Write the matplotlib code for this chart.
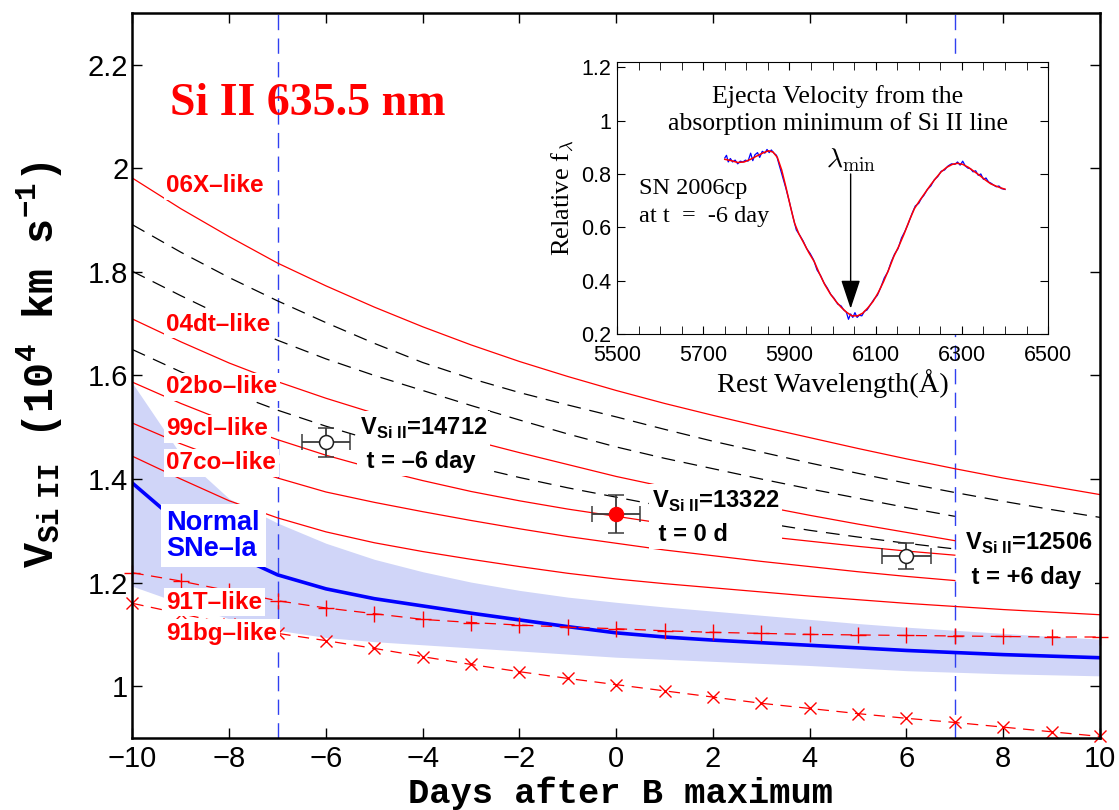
import matplotlib
matplotlib.use('Agg')
import matplotlib.pyplot as plt
import numpy as np
from matplotlib.ticker import FuncFormatter, MultipleLocator

plt.rcParams['font.family'] = 'Liberation Sans'
plt.rcParams['mathtext.fontset'] = 'custom'
plt.rcParams['mathtext.rm'] = 'Liberation Sans:bold'
plt.rcParams['mathtext.bf'] = 'Liberation Sans:bold'
plt.rcParams['mathtext.tt'] = 'Liberation Mono:bold'

# days after B maximum
days = np.arange(-10, 11)
days_to7 = np.arange(-10, 8)

# Si II velocity tracks (10^4 km/s)
v_06x = [1.981, 1.922, 1.868, 1.817, 1.773, 1.732, 1.694, 1.659, 1.627, 1.598, 1.571,
         1.546, 1.523, 1.501, 1.480, 1.459, 1.439, 1.420, 1.402, 1.386, 1.370]
v_dash1 = [1.891, 1.838, 1.789, 1.744, 1.702, 1.662, 1.625, 1.594, 1.567, 1.543, 1.520,
           1.496, 1.473, 1.452, 1.431, 1.411, 1.392, 1.374, 1.357, 1.341, 1.326]
v_dash2 = [1.801, 1.754, 1.709, 1.668, 1.632, 1.600, 1.571, 1.542, 1.514, 1.487, 1.462,
           1.440, 1.420, 1.400, 1.381, 1.363, 1.345, 1.328]
v_04dt = [1.709, 1.665, 1.624, 1.588, 1.556, 1.527, 1.500, 1.475, 1.451, 1.428, 1.405,
          1.385, 1.366, 1.348, 1.330, 1.313, 1.297, 1.281]
v_dash3 = [1.650, 1.607, 1.568, 1.533, 1.502, 1.474, 1.448, 1.425, 1.403, 1.383, 1.365,
           1.347, 1.331, 1.316, 1.301, 1.288, 1.276, 1.265]
v_02bo = [1.587, 1.546, 1.509, 1.476, 1.446, 1.420, 1.397, 1.376, 1.358, 1.342, 1.328,
          1.314, 1.301, 1.290, 1.280, 1.270, 1.261, 1.253]
v_99cl = [1.508, 1.468, 1.433, 1.402, 1.375, 1.355, 1.337, 1.320, 1.304, 1.289, 1.276,
          1.263, 1.252, 1.241, 1.231, 1.221, 1.212, 1.204]
v_07co = [1.444, 1.400, 1.358, 1.325, 1.298, 1.277, 1.260, 1.245, 1.231, 1.218, 1.207,
          1.198, 1.190, 1.182, 1.174, 1.167, 1.160, 1.154, 1.148, 1.143, 1.138]
v_normal = [1.392, 1.312, 1.258, 1.215, 1.188, 1.169, 1.155, 1.141, 1.128, 1.115, 1.103,
            1.095, 1.089, 1.084, 1.079, 1.074, 1.069, 1.065, 1.061, 1.058, 1.055]
v_normal_hi = [1.585, 1.447, 1.362, 1.315, 1.276, 1.245, 1.221, 1.201, 1.185, 1.172, 1.162,
               1.153, 1.145, 1.137, 1.129, 1.121, 1.114, 1.108, 1.102, 1.096, 1.091]
v_normal_lo = [1.193, 1.160, 1.130, 1.108, 1.094, 1.086, 1.080, 1.074, 1.068, 1.062, 1.056,
               1.052, 1.048, 1.044, 1.040, 1.035, 1.030, 1.027, 1.024, 1.022, 1.020]
v_91t = [1.219, 1.203, 1.184, 1.165, 1.151, 1.140, 1.129, 1.123, 1.118, 1.114, 1.111,
         1.107, 1.104, 1.102, 1.100, 1.099, 1.098, 1.097, 1.096, 1.095, 1.095]
v_91bg = [1.160, 1.140, 1.120, 1.102, 1.088, 1.073, 1.057, 1.042, 1.028, 1.015, 1.003,
          0.991, 0.979, 0.967, 0.957, 0.947, 0.938, 0.930, 0.921, 0.912, 0.903]

# SN 2006cp measurements
obs_t = [-6, 0, 6]
obs_v = [1.4712, 1.3322, 1.2506]
obs_terr = [0.5, 0.5, 0.5]
obs_verr = [0.028, 0.037, 0.025]
obs_text = ['14712', '13322', '12506']
obs_when = ['t = \u20136 day', 't = 0 d', 't = +6 day']

# Si II 6355 line profile of SN 2006cp at t = -6 day
wave_obs = [5750, 5754, 5758, 5763, 5768, 5774, 5780, 5786, 5792, 5798, 5804, 5810, 5815,
            5820, 5826, 5831, 5837, 5843, 5848, 5853, 5858, 5864, 5870, 5876, 5884, 5892,
            5900, 5908, 5916, 5924, 5932, 5940, 5948, 5956, 5964, 5972, 5980, 5988, 5996,
            6004, 6012, 6020, 6026, 6032, 6037, 6042, 6047, 6052, 6057, 6062, 6068, 6074,
            6080, 6088, 6096, 6104, 6112, 6120, 6128, 6136, 6144, 6152, 6160, 6168, 6176,
            6184, 6192, 6200, 6206, 6212, 6220, 6228, 6236, 6244, 6252, 6260, 6268, 6276,
            6284, 6290, 6296, 6302, 6308, 6314, 6320, 6326, 6332, 6338, 6344, 6350, 6356,
            6362, 6368, 6374, 6380, 6386, 6392, 6400]
flux_obs = [0.860, 0.870, 0.845, 0.858, 0.845, 0.852, 0.838, 0.848, 0.845, 0.852, 0.848,
            0.878, 0.850, 0.872, 0.880, 0.862, 0.885, 0.878, 0.892, 0.880, 0.890, 0.878,
            0.870, 0.835, 0.790, 0.745, 0.695, 0.640, 0.590, 0.570, 0.548, 0.520, 0.502,
            0.478, 0.440, 0.420, 0.392, 0.372, 0.348, 0.333, 0.312, 0.305, 0.290, 0.282,
            0.255, 0.275, 0.262, 0.280, 0.262, 0.270, 0.268, 0.285, 0.290, 0.310, 0.330,
            0.345, 0.375, 0.410, 0.432, 0.470, 0.500, 0.520, 0.560, 0.585, 0.615, 0.650,
            0.680, 0.690, 0.708, 0.720, 0.742, 0.755, 0.778, 0.790, 0.810, 0.815, 0.830,
            0.838, 0.836, 0.845, 0.833, 0.848, 0.830, 0.822, 0.820, 0.808, 0.812, 0.795,
            0.800, 0.780, 0.785, 0.770, 0.765, 0.758, 0.752, 0.755, 0.745, 0.742]
wave_fit = [5750, 5765, 5780, 5795, 5810, 5825, 5840, 5852, 5862, 5872, 5882, 5892, 5902,
            5912, 5922, 5932, 5945, 5958, 5970, 5982, 5995, 6008, 6020, 6032, 6045, 6058,
            6070, 6082, 6094, 6106, 6118, 6130, 6142, 6154, 6166, 6178, 6190, 6202, 6215,
            6228, 6240, 6252, 6265, 6278, 6290, 6302, 6315, 6328, 6341, 6354, 6367, 6380,
            6390, 6400]
flux_fit = [0.855, 0.850, 0.843, 0.845, 0.855, 0.868, 0.880, 0.887, 0.882, 0.862, 0.815,
            0.750, 0.680, 0.615, 0.575, 0.545, 0.505, 0.470, 0.425, 0.385, 0.350, 0.322,
            0.300, 0.282, 0.268, 0.268, 0.278, 0.298, 0.322, 0.355, 0.395, 0.440, 0.490,
            0.530, 0.575, 0.625, 0.670, 0.700, 0.730, 0.760, 0.785, 0.808, 0.825, 0.836,
            0.840, 0.836, 0.825, 0.810, 0.795, 0.778, 0.763, 0.754, 0.748, 0.743]
lambda_min = 6042

RED = '#ff0000'
BLUE = '#0000ff'
BAND = '#d0d5f8'

fig = plt.figure(figsize=(11.19, 8.10), dpi=100)
ax = fig.add_axes([0.1184, 0.0889, 0.8646, 0.8951])

ax.fill_between(days, v_normal_lo, v_normal_hi, color=BAND, lw=0, zorder=1)
ax.axvline(-7, color='#3040f0', lw=1, dashes=(11, 6), zorder=1.5)
ax.axvline(7, color='#3040f0', lw=1, dashes=(11, 6), zorder=1.5)

for v in (v_06x, v_07co):
    ax.plot(days, v, color=RED, lw=0.9)
for v in (v_04dt, v_02bo, v_99cl):
    ax.plot(days_to7, v, color=RED, lw=0.9)
ax.plot(days, v_dash1, color='black', lw=0.9, dashes=(11, 7))
ax.plot(days_to7, v_dash2, color='black', lw=0.9, dashes=(11, 7))
ax.plot(days_to7, v_dash3, color='black', lw=0.9, dashes=(11, 7))
ax.plot(days, v_normal, color=BLUE, lw=2.6)
ax.plot(days, v_91t, color=RED, lw=0.9, dashes=(9, 6), marker='+', ms=11, mew=1,
        clip_on=False)
ax.plot(days, v_91bg, color=RED, lw=0.9, dashes=(9, 6), marker='x', ms=8, mew=1,
        clip_on=False)

# SN 2006cp points
for t, v, te, ve, face in zip(obs_t, obs_v, obs_terr, obs_verr, ['white', RED, 'white']):
    edge = RED if face == RED else '#202020'
    ax.errorbar(t, v, xerr=te, yerr=ve, fmt='o', ms=10, mfc=face, mec=edge, mew=1.1,
                ecolor='#3a3a3a', elinewidth=1.3, capsize=6, capthick=1.3, zorder=5)

box = dict(facecolor='white', edgecolor='none', pad=2)
label_x = -9.3
labels = [('06X\u2013like', 1.967), ('04dt\u2013like', 1.699), ('02bo\u2013like', 1.578),
          ('99cl\u2013like', 1.497), ('07co\u2013like', 1.431), ('91T\u2013like', 1.162),
          ('91bg\u2013like', 1.102)]
for name, y in labels:
    ax.text(label_x, y, name, color=RED, fontsize=17.5, fontweight='bold', ha='left',
            va='center', bbox=box, zorder=4)
ax.text(label_x, 1.291, 'Normal\nSNe\u2013Ia', color=BLUE, fontsize=19.5, fontweight='bold',
        ha='left', va='center', linespacing=1.0,
        bbox=dict(facecolor='white', edgecolor='none', pad=4), zorder=4)

ax.text(-9.22, 2.124, 'Si II 635.5 nm', color=RED, fontsize=33, fontweight='bold',
        family='Liberation Serif', ha='left', va='center')

ann_pos = [(-5.3, 1.467), (0.73, 1.326), (7.2, 1.244)]
for (x, y), num, when in zip(ann_pos, obs_text, obs_when):
    ax.text(x, y, r'V$_{\mathbf{Si\ II}}$=' + num + '\n ' + when, fontsize=17,
            fontweight='bold', ha='left', va='center', linespacing=1.55, bbox=box,
            zorder=4)

ax.set_xlim(-10, 10)
ax.set_ylim(0.9, 2.3)
ax.set_xticks(np.arange(-10, 11, 2))
ax.set_yticks(np.arange(1.0, 2.3, 0.2))
fmt = FuncFormatter(lambda v, p: ('%g' % round(v, 2)).replace('-', '\u2212'))
ax.xaxis.set_major_formatter(fmt)
ax.yaxis.set_major_formatter(fmt)
ax.tick_params(direction='in', length=7, width=1, labelsize=21, top=True, right=True)
ax.tick_params(axis='x', pad=5)
ax.tick_params(axis='y', pad=3)
for s in ax.spines.values():
    s.set_linewidth(1.8)

fig.text(40 / 1119, 0.549,
         r'V$_{\mathtt{Si\ II}}$ (10$^{\mathtt{4}}$ km s$^{\mathtt{-1}}$)',
         family='Liberation Mono', fontweight='bold', fontsize=30, rotation=90,
         ha='center', va='center')
fig.text(621 / 1119, 0.0, 'Days after B maximum', family='Liberation Mono',
         fontweight='bold', fontsize=25.5, ha='center', va='bottom')

# inset: line profile and absorption minimum
ins = fig.add_axes([0.5514, 0.5877, 0.3852, 0.3358])
ins.plot(wave_obs, flux_obs, color=BLUE, lw=0.9)
ins.plot(wave_fit, flux_fit, color=RED, lw=1.1)
ins.annotate('', xy=(lambda_min, 0.295), xytext=(lambda_min, 0.80),
             arrowprops=dict(arrowstyle='-|>,head_length=0.6,head_width=0.2', color='black',
                             lw=1, mutation_scale=30, shrinkA=0, shrinkB=0))
ins.text(lambda_min, 0.85, r'$\lambda_{\rm min}$', fontsize=20, ha='center', va='center',
         math_fontfamily='cm')
ins.text(6012, 1.09, 'Ejecta Velocity from the', family='Liberation Serif', fontsize=18.5,
         ha='center', va='center')
ins.text(6012, 0.99, 'absorption minimum of Si II line', family='Liberation Serif',
         fontsize=18.5, ha='center', va='center')
ins.text(5550, 0.745, 'SN 2006cp', family='Liberation Serif', fontsize=17.5, ha='left',
         va='center')
ins.text(5550, 0.64, 'at t  =  -6 day', family='Liberation Serif', fontsize=17.5, ha='left',
         va='center')
ins.set_xlim(5500, 6500)
ins.set_ylim(0.2, 1.22)
ins.set_xticks(np.arange(5500, 6501, 200))
ins.xaxis.set_minor_locator(MultipleLocator(50))
ins.set_yticks(np.arange(0.2, 1.21, 0.2))
ins.yaxis.set_major_formatter(FuncFormatter(lambda v, p: '%g' % round(v, 2)))
ins.tick_params(which='both', direction='in', top=True, right=True, labelsize=15.5)
ins.tick_params(axis='x', pad=8)
ins.tick_params(axis='y', pad=4)
ins.tick_params(which='major', length=6)
ins.tick_params(which='minor', length=6)
ins.set_xlabel('Rest Wavelength(\u00c5)', family='Liberation Serif', fontsize=20.5,
               labelpad=2)
ins.set_ylabel(r'Relative f$_\lambda$', family='Liberation Serif', fontsize=19,
               math_fontfamily='cm', labelpad=4)

fig.savefig('out.png', dpi=100)
